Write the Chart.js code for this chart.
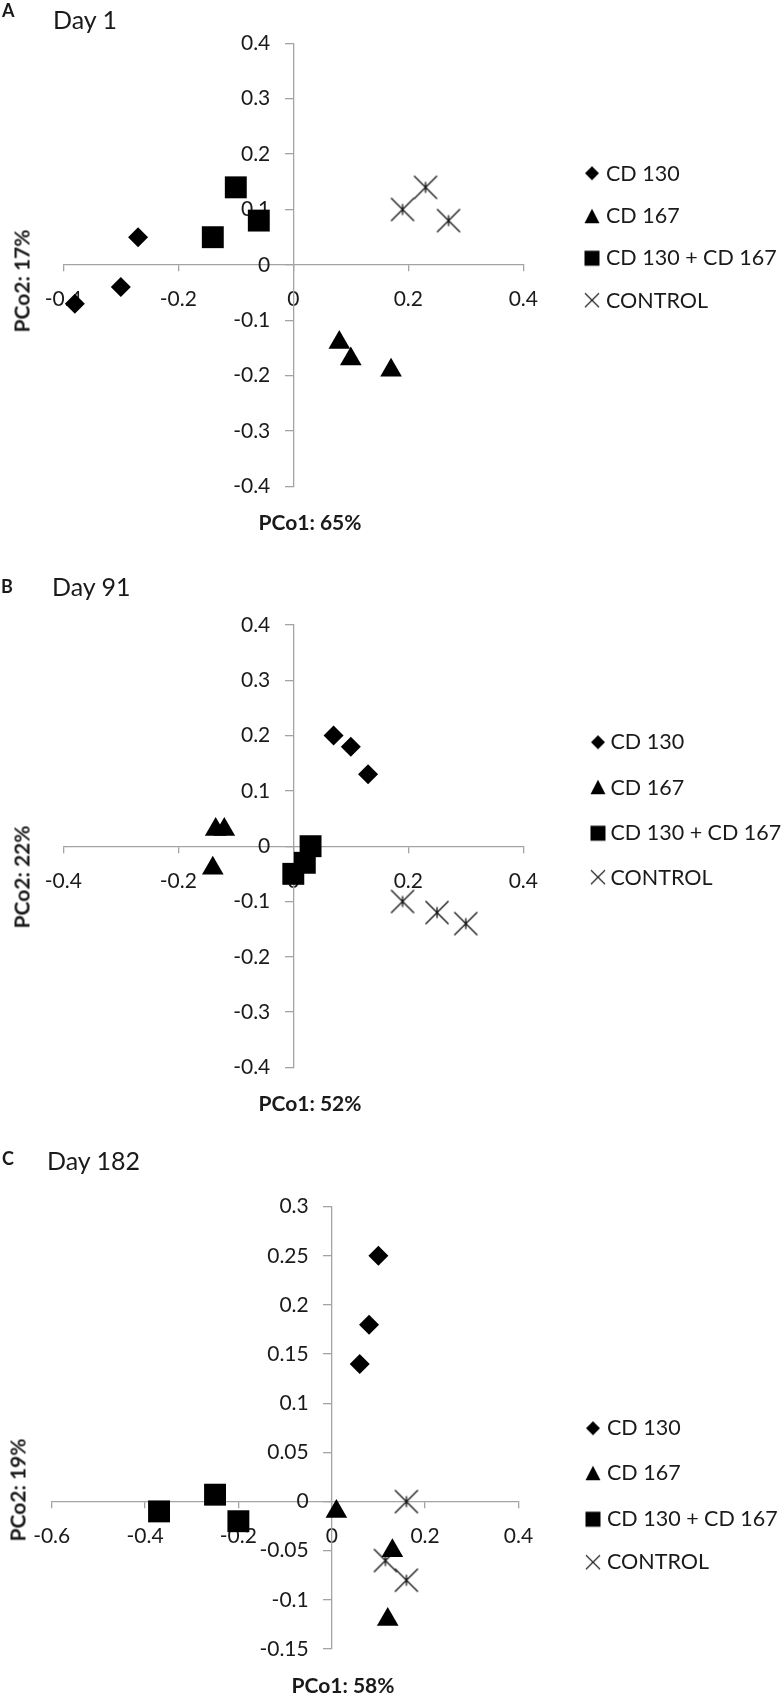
<!DOCTYPE html>
<html lang="en">
<head>
<meta charset="UTF-8">
<title>PCoA plots</title>
<script src="https://cdn.jsdelivr.net/npm/chart.js"></script>
<style>
  body { margin: 0; background: #fff; font-family: Lato, "Open Sans", sans-serif; color: #1a1a1a; }
  #page { position: relative; width: 782px; height: 1699px; overflow: hidden; }
  #page canvas.plot { position: absolute; left: 0; }
  .txt { position: absolute; line-height: 1; white-space: nowrap; transform: translateY(-50%); }
  .rot { position: absolute; line-height: 1; white-space: nowrap; font-weight: bold; font-size: 21px;
         transform: translate(-50%, -50%) rotate(-90deg); }
  .ctr { transform: translate(-50%, -50%); font-weight: bold; font-size: 21px; }
  .leg { position: absolute; transform: translateY(-50%); line-height: 1; font-size: 21.5px; white-space: nowrap; }
  .leg canvas { position: absolute; top: 50%; transform: translateY(-50%); }
</style>
</head>
<body>
<div id="page"></div>
<script>
// series + panel labels
const seriesNames = ['CD 130', 'CD 167', 'CD 130 + CD 167', 'CONTROL'];
const panelLetters = ['A', 'B', 'C'];
const panelTitles = ['Day 1', 'Day 91', 'Day 182'];
const xTitles = ['PCo1: 65%', 'PCo1: 52%', 'PCo1: 58%'];
const yTitles = ['PCo2: 17%', 'PCo2: 22%', 'PCo2: 19%'];

// tick values
const ticksXab = [-0.4, -0.2, 0, 0.2, 0.4];
const ticksYab = [-0.4, -0.3, -0.2, -0.1, 0, 0.1, 0.2, 0.3, 0.4];
const ticksXc = [-0.6, -0.4, -0.2, 0, 0.2, 0.4];
const ticksYc = [-0.15, -0.1, -0.05, 0, 0.05, 0.1, 0.15, 0.2, 0.25, 0.3];

// Day 1  [PCo1, PCo2]
const day1Cd130 = [[-0.27, 0.05], [-0.30, -0.04], [-0.38, -0.07]];
const day1Cd167 = [[0.08, -0.14], [0.10, -0.17], [0.17, -0.19]];
const day1Combo = [[-0.10, 0.14], [-0.06, 0.08], [-0.14, 0.05]];
const day1Control = [[0.19, 0.10], [0.23, 0.14], [0.27, 0.08]];

// Day 91
const day91Cd130 = [[0.07, 0.20], [0.10, 0.18], [0.13, 0.13]];
const day91Cd167 = [[-0.135, 0.03], [-0.12, 0.03], [-0.14, -0.04]];
const day91Combo = [[0.03, 0.00], [0.02, -0.03], [0.00, -0.05]];
const day91Control = [[0.19, -0.10], [0.25, -0.12], [0.30, -0.14]];

// Day 182
const day182Cd130 = [[0.10, 0.25], [0.08, 0.18], [0.06, 0.14]];
const day182Cd167 = [[0.01, -0.01], [0.13, -0.05], [0.12, -0.12]];
const day182Combo = [[-0.37, -0.01], [-0.25, 0.007], [-0.20, -0.02]];
const day182Control = [[0.16, 0.00], [0.115, -0.06], [0.16, -0.08]];

const AXIS = '#a3a3a3';
const page = document.getElementById('page');

// excel style star: an X with a short vertical bar
function starMarker(size, bar) {
  const c = document.createElement('canvas');
  c.width = c.height = size;
  const g = c.getContext('2d');
  g.strokeStyle = '#111';
  g.lineWidth = 1.3;
  const m = size / 2, a = size / 2 - 1.5;
  g.beginPath();
  g.moveTo(m - a, m - a); g.lineTo(m + a, m + a);
  g.moveTo(m + a, m - a); g.lineTo(m - a, m + a);
  if (bar) { g.moveTo(m, m - 5.5); g.lineTo(m, m + 5.5); }
  g.stroke();
  return c;
}

function legendMarker(kind) {
  const c = document.createElement('canvas');
  c.width = 18; c.height = 18;
  const g = c.getContext('2d');
  g.fillStyle = '#000';
  g.beginPath();
  if (kind === 0) { g.moveTo(9, 2); g.lineTo(16, 9); g.lineTo(9, 16); g.lineTo(2, 9); g.closePath(); g.fill(); }
  else if (kind === 1) { g.moveTo(9, 1.5); g.lineTo(16.5, 16); g.lineTo(1.5, 16); g.closePath(); g.fill(); }
  else if (kind === 2) { g.fillRect(1.5, 1.5, 15, 15); }
  else {
    g.strokeStyle = '#222'; g.lineWidth = 1.2;
    g.moveTo(2, 2); g.lineTo(16, 16); g.moveTo(16, 2); g.lineTo(2, 16); g.stroke();
  }
  return c;
}

// y axis sits at x = 0, chart.js draws its labels flush against the line: push them left
function shiftYLabels(scale) {
  if (scale._shifted) return;
  const orig = scale._computeLabelItems.bind(scale);
  scale._computeLabelItems = ca => orig(ca).map(it => {
    if (it.options && it.options.translation) it.options.translation[0] -= 23;
    return it;
  });
  scale._shifted = true;
}

const controlStar = starMarker(26, true);
const styles = ['rectRot', 'triangle', 'rect', controlStar];
const radii = [10, 12.5, 15.5, 13];

const panels = [
  { top: 0, height: 540, pad: { left: 63.3, right: 258.7, top: 43.3, bottom: 53.5 },
    xr: [-0.4, 0.4], yr: [-0.4, 0.4], xt: ticksXab, yt: ticksYab,
    series: [day1Cd130, day1Cd167, day1Combo, day1Control],
    letter: [2, 10], title: [53, 18.5], xTitle: [310, 521], yTitle: [21, 281],
    leg: { mx: 583, tx: 606, rows: [173.5, 216, 258, 300.5] } },
  { top: 560, height: 560, pad: { left: 63.3, right: 258.7, top: 65, bottom: 52.6 },
    xr: [-0.4, 0.4], yr: [-0.4, 0.4], xt: ticksXab, yt: ticksYab,
    series: [day91Cd130, day91Cd167, day91Combo, day91Control],
    letter: [1, 585.5], title: [52, 586], xTitle: [310, 1102], yTitle: [21, 877],
    leg: { mx: 589, tx: 610.5, rows: [742, 787.5, 833, 877.5] } },
  { top: 1130, height: 569, pad: { left: 51.7, right: 263.6, top: 76.7, bottom: 50 },
    xr: [-0.6, 0.4], yr: [-0.15, 0.3], xt: ticksXc, yt: ticksYc,
    series: [day182Cd130, day182Cd167, day182Combo, day182Control],
    letter: [2, 1158], title: [47, 1160], xTitle: [343, 1684], yTitle: [17, 1490],
    leg: { mx: 584, tx: 607, rows: [1428, 1473, 1519, 1562] } }
];

function addText(cls, text, x, y, css) {
  const d = document.createElement('div');
  d.className = cls;
  d.textContent = text;
  d.style.left = x + 'px';
  d.style.top = y + 'px';
  Object.assign(d.style, css || {});
  page.appendChild(d);
  return d;
}

panels.forEach((p, i) => {
  const cv = document.createElement('canvas');
  cv.className = 'plot';
  cv.width = 782; cv.height = p.height;
  cv.style.top = p.top + 'px';
  page.appendChild(cv);

  const tickFont = { family: 'Lato', size: 21 };
  new Chart(cv, {
    type: 'scatter',
    data: {
      datasets: p.series.map((pts, k) => ({
        label: seriesNames[k],
        data: pts.map(([x, y]) => ({ x, y })),
        pointStyle: styles[k],
        pointRadius: radii[k],
        pointHoverRadius: radii[k],
        backgroundColor: '#000',
        borderColor: '#000',
        borderWidth: 0,
        clip: false
      }))
    },
    options: {
      responsive: false,
      animation: false,
      events: [],
      layout: { padding: p.pad },
      plugins: { legend: { display: false }, tooltip: { enabled: false } },
      scales: {
        x: {
          type: 'linear', min: p.xr[0], max: p.xr[1],
          position: { y: 0 },
          afterBuildTicks: s => { s.ticks = p.xt.map(v => ({ value: v })); },
          ticks: { callback: v => String(v), font: tickFont, color: '#1a1a1a', padding: 16, maxRotation: 0, autoSkip: false },
          grid: { drawOnChartArea: false, drawTicks: true, tickLength: 6, color: AXIS, lineWidth: 1.3 },
          border: { color: AXIS, width: 1.3 }
        },
        y: {
          type: 'linear', min: p.yr[0], max: p.yr[1],
          position: { x: 0 },
          afterBuildTicks: s => { s.ticks = p.yt.map(v => ({ value: v })); },
          afterFit: shiftYLabels,
          ticks: { callback: v => String(v), font: tickFont, color: '#1a1a1a', padding: 16, autoSkip: false },
          grid: { drawOnChartArea: false, drawTicks: true, tickLength: 8, color: AXIS, lineWidth: 1.3 },
          border: { color: AXIS, width: 1.3 }
        }
      }
    }
  });

  addText('txt', panelLetters[i], p.letter[0], p.letter[1], { fontWeight: 'bold', fontSize: '18px' });
  addText('txt', panelTitles[i], p.title[0], p.title[1], { fontSize: '25px' });
  addText('txt ctr', xTitles[i], p.xTitle[0], p.xTitle[1]);
  addText('rot', yTitles[i], p.yTitle[0], p.yTitle[1]);

  seriesNames.forEach((name, k) => {
    const row = document.createElement('div');
    row.className = 'leg';
    row.style.left = p.leg.mx + 'px';
    row.style.top = p.leg.rows[k] + 'px';
    const m = legendMarker(k);
    m.style.left = '0px';
    row.appendChild(m);
    const s = document.createElement('span');
    s.textContent = name;
    s.style.marginLeft = (p.leg.tx - p.leg.mx) + 'px';
    row.appendChild(s);
    page.appendChild(row);
  });
});
</script>
</body>
</html>
